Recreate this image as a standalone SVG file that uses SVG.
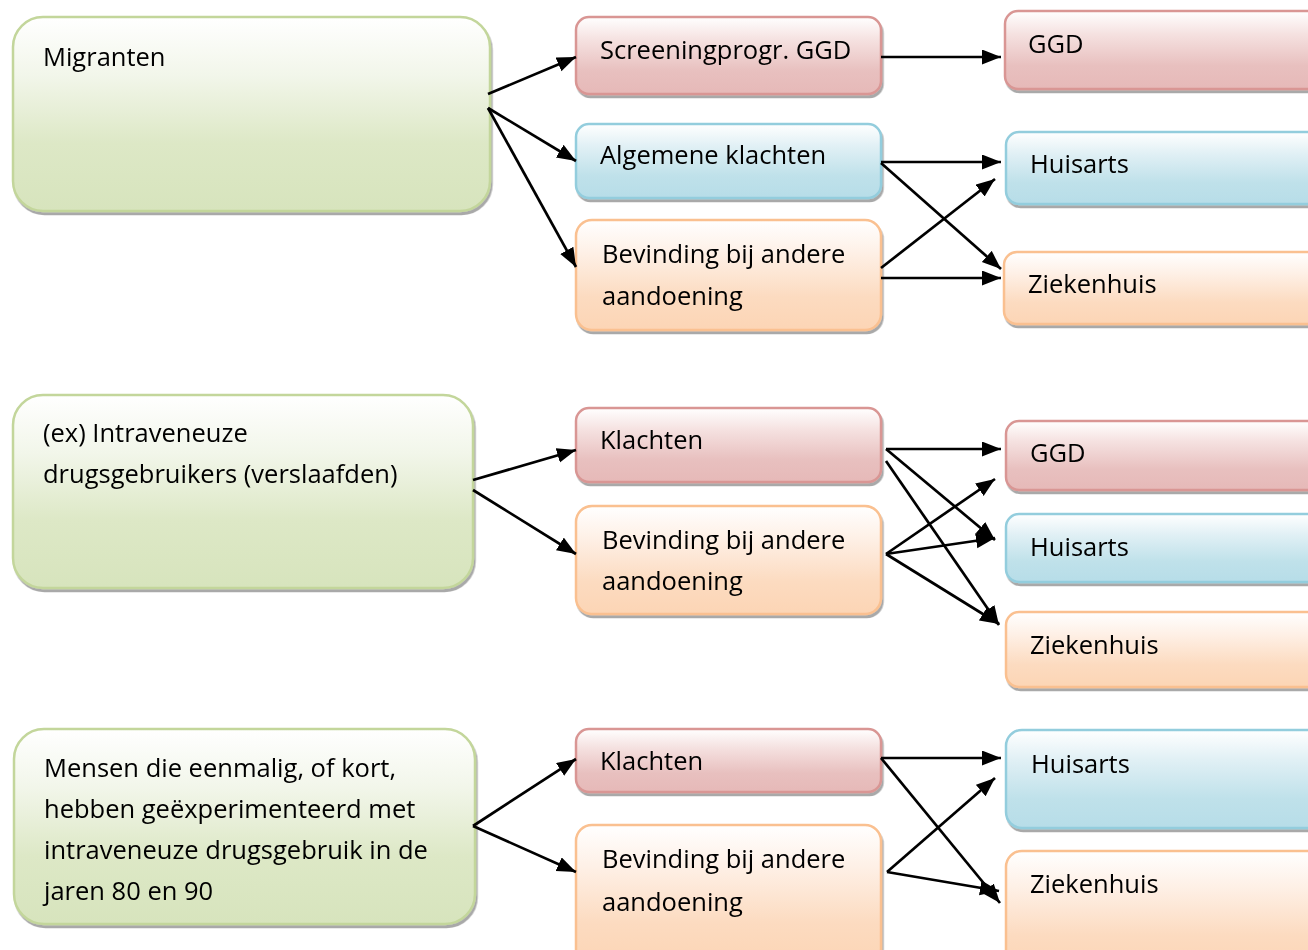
<svg xmlns="http://www.w3.org/2000/svg" width="1308" height="950" viewBox="0 0 1308 950">
<style>
text{font-family:"Open Sans","Noto Sans","DejaVu Sans",sans-serif;font-size:25.5px;fill:#000}
.g{fill:url(#gG);stroke:#c3d69b;stroke-width:2.5}
.r{fill:url(#gR);stroke:#d99694;stroke-width:2.5}
.b{fill:url(#gB);stroke:#93cddd;stroke-width:2.5}
.o{fill:url(#gO);stroke:#fac090;stroke-width:2.5}
.sh{filter:url(#ds)}
#conn line{stroke:#000;stroke-width:2.7;marker-end:url(#ah)}
</style>
<defs>
<linearGradient id="gG" x1="0" y1="0" x2="0" y2="1"><stop offset="0" stop-color="#ffffff"/><stop offset="0.3" stop-color="#f2f6ea"/><stop offset="0.65" stop-color="#dde8c6"/><stop offset="1" stop-color="#d7e4bd"/></linearGradient>
<linearGradient id="gR" x1="0" y1="0" x2="0" y2="1"><stop offset="0" stop-color="#ffffff"/><stop offset="0.3" stop-color="#f5e1e0"/><stop offset="0.7" stop-color="#e8c0bf"/><stop offset="1" stop-color="#e6b9b8"/></linearGradient>
<linearGradient id="gB" x1="0" y1="0" x2="0" y2="1"><stop offset="0" stop-color="#ffffff"/><stop offset="0.3" stop-color="#e1f0f5"/><stop offset="0.7" stop-color="#bfe1ea"/><stop offset="1" stop-color="#b7dde8"/></linearGradient>
<linearGradient id="gO" x1="0" y1="0" x2="0" y2="1"><stop offset="0" stop-color="#ffffff"/><stop offset="0.3" stop-color="#fef0e6"/><stop offset="0.7" stop-color="#fcdbc0"/><stop offset="1" stop-color="#fcd5b5"/></linearGradient>
<filter id="ds" x="-5%" y="-10%" width="110%" height="125%"><feDropShadow dx="1.5" dy="3" stdDeviation="0.5" flood-color="#404040" flood-opacity="0.45"/></filter>
<marker id="ah" markerUnits="userSpaceOnUse" markerWidth="20" markerHeight="16" refX="19" refY="7.5" orient="auto" viewBox="0 0 20 16"><path d="M0,0 L19,7.5 L0,15 z" fill="#000"/></marker>
</defs>

<!-- Section 1 -->
<g id="n-migranten" class="sh"><rect class="g" x="13" y="17" width="477" height="194" rx="30"/><text x="43" y="66">Migranten</text></g>
<g id="n-screening" class="sh"><rect class="r" x="576" y="17" width="305" height="77" rx="13"/><text x="600" y="59">Screeningprogr. GGD</text></g>
<g id="n-algemene" class="sh"><rect class="b" x="576" y="124" width="305" height="74" rx="13"/><text x="600" y="164">Algemene klachten</text></g>
<g id="n-bevinding1" class="sh"><rect class="o" x="576" y="220" width="305" height="110" rx="16"/><text x="602" y="263">Bevinding bij andere</text><text x="602" y="305">aandoening</text></g>
<g id="n-ggd1" class="sh"><rect class="r" x="1005" y="11" width="320" height="78" rx="13"/><text x="1028" y="53">GGD</text></g>
<g id="n-huisarts1" class="sh"><rect class="b" x="1006" y="132" width="320" height="72" rx="13"/><text x="1030" y="173">Huisarts</text></g>
<g id="n-ziekenhuis1" class="sh"><rect class="o" x="1004" y="252" width="320" height="72" rx="13"/><text x="1028" y="293">Ziekenhuis</text></g>

<!-- Section 2 -->
<g id="n-ivdu" class="sh"><rect class="g" x="13" y="395" width="460" height="193" rx="30"/><text x="43" y="442">(ex) Intraveneuze</text><text x="43" y="483">drugsgebruikers (verslaafden)</text></g>
<g id="n-klachten2" class="sh"><rect class="r" x="576" y="408" width="305" height="74" rx="13"/><text x="600" y="449">Klachten</text></g>
<g id="n-bevinding2" class="sh"><rect class="o" x="576" y="506" width="305" height="108" rx="16"/><text x="602" y="549">Bevinding bij andere</text><text x="602" y="590">aandoening</text></g>
<g id="n-ggd2" class="sh"><rect class="r" x="1006" y="421" width="320" height="69" rx="13"/><text x="1030" y="462">GGD</text></g>
<g id="n-huisarts2" class="sh"><rect class="b" x="1006" y="514" width="320" height="68" rx="13"/><text x="1030" y="556">Huisarts</text></g>
<g id="n-ziekenhuis2" class="sh"><rect class="o" x="1006" y="612" width="320" height="75" rx="13"/><text x="1030" y="654">Ziekenhuis</text></g>

<!-- Section 3 -->
<g id="n-experiment" class="sh"><rect class="g" x="14" y="729" width="461" height="195" rx="30"/><text x="44" y="777">Mensen die eenmalig, of kort,</text><text x="44" y="818">hebben geëxperimenteerd met</text><text x="44" y="859">intraveneuze drugsgebruik in de</text><text x="44" y="900">jaren 80 en 90</text></g>
<g id="n-klachten3" class="sh"><rect class="r" x="576" y="729" width="305" height="63" rx="13"/><text x="600" y="770">Klachten</text></g>
<g id="n-bevinding3" class="sh"><rect class="o" x="576" y="825" width="305" height="140" rx="16"/><text x="602" y="868">Bevinding bij andere</text><text x="602" y="911">aandoening</text></g>
<g id="n-huisarts3" class="sh"><rect class="b" x="1006" y="730" width="320" height="98" rx="16"/><text x="1031" y="773">Huisarts</text></g>
<g id="n-ziekenhuis3" class="sh"><rect class="o" x="1006" y="851" width="320" height="120" rx="16"/><text x="1030" y="893">Ziekenhuis</text></g>

<g id="conn">
<line x1="488" y1="94" x2="576" y2="57"/>
<line x1="488" y1="108" x2="576" y2="161"/>
<line x1="488" y1="108" x2="576" y2="267"/>
<line x1="881" y1="57" x2="1001" y2="57"/>
<line x1="881" y1="162" x2="1001" y2="162"/>
<line x1="881" y1="163" x2="1001" y2="269"/>
<line x1="881" y1="268" x2="995" y2="179"/>
<line x1="881" y1="278" x2="1001" y2="278"/>

<line x1="473" y1="480" x2="576" y2="450"/>
<line x1="473" y1="490" x2="576" y2="554"/>
<line x1="886" y1="449" x2="1001" y2="449"/>
<line x1="886" y1="449" x2="995" y2="540"/>
<line x1="886" y1="461" x2="999" y2="625"/>
<line x1="886" y1="554" x2="995" y2="479"/>
<line x1="886" y1="554" x2="995" y2="538"/>
<line x1="886" y1="554" x2="999" y2="624"/>

<line x1="473" y1="826" x2="576" y2="759"/>
<line x1="473" y1="826" x2="576" y2="872"/>
<line x1="881" y1="758" x2="1001" y2="758"/>
<line x1="881" y1="758" x2="1000" y2="903"/>
<line x1="887" y1="872" x2="995" y2="778"/>
<line x1="887" y1="872" x2="999" y2="891"/>
</g>
</svg>
